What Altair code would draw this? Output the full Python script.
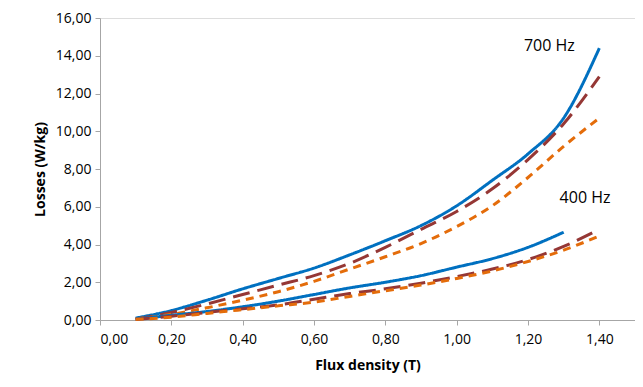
import altair as alt
import pandas as pd

flux = [0.1, 0.2, 0.3, 0.4, 0.5, 0.6, 0.7, 0.8, 0.9, 1.0, 1.1, 1.2, 1.3, 1.4]

meas_700 = [0.1, 0.5, 1.05, 1.65, 2.2, 2.75, 3.45, 4.2, 5.0, 6.05, 7.4, 8.8, 10.7, 14.4]
model1_700 = [0.05, 0.4, 0.85, 1.35, 1.85, 2.35, 3.0, 3.85, 4.8, 5.75, 6.95, 8.5, 10.4, 12.9]
model2_700 = [0.05, 0.3, 0.65, 1.05, 1.5, 2.05, 2.7, 3.35, 4.05, 4.95, 6.05, 7.55, 9.2, 10.7]

flux_400_meas = [0.1, 0.2, 0.3, 0.4, 0.5, 0.6, 0.7, 0.8, 0.9, 1.0, 1.1, 1.2, 1.3]
meas_400 = [0.05, 0.25, 0.45, 0.7, 1.0, 1.35, 1.7, 2.0, 2.35, 2.8, 3.25, 3.85, 4.65]
model1_400 = [0.03, 0.2, 0.4, 0.6, 0.8, 1.1, 1.4, 1.65, 1.95, 2.3, 2.7, 3.2, 3.9, 4.8]
model2_400 = [0.03, 0.15, 0.35, 0.55, 0.75, 0.95, 1.25, 1.55, 1.85, 2.2, 2.6, 3.1, 3.7, 4.45]

x_ticks = [0, 0.2, 0.4, 0.6, 0.8, 1.0, 1.2, 1.4]
y_ticks = [0, 2, 4, 6, 8, 10, 12, 14, 16]

label_text = ["700 Hz", "400 Hz"]
label_x = [1.26, 1.36]
label_y = [14.5, 6.45]

series_names = ["Measured", "Model A", "Model B"]
series_colors = ["#0070C0", "#953735", "#E46C0A"]
series_dashes = [[1, 0], [17, 8], [8, 6]]

rows = []
for name, xs, ys in [
    ("Measured|700", flux, meas_700),
    ("Model A|700", flux, model1_700),
    ("Model B|700", flux, model2_700),
    ("Measured|400", flux_400_meas, meas_400),
    ("Model A|400", flux, model1_400),
    ("Model B|400", flux, model2_400),
]:
    s, f = name.split("|")
    for x, y in zip(xs, ys):
        rows.append({"series": s, "freq": f, "key": name, "B": x, "P": y})
df = pd.DataFrame(rows)

lab = pd.DataFrame({"t": label_text, "x": label_x, "y": label_y})

fmt = "replace(format(datum.value, '.2f'), '.', ',')"

xscale = alt.Scale(domain=[0, 1.5], nice=False, zero=False)
yscale = alt.Scale(domain=[0, 16], nice=False)

x_axis = alt.Axis(values=x_ticks, labelExpr=fmt,
                  grid=False, domainColor="#A6A6A6", tickColor="#A6A6A6",
                  tickSize=5, labelFontSize=14, labelPadding=7, labelOverlap=False,
                  titleFontSize=14, titleFontWeight="bold", titlePadding=12,
                  labelColor="#000000", titleColor="#000000")
y_axis = alt.Axis(values=y_ticks, labelExpr=fmt,
                  grid=False, domainColor="#A6A6A6", tickColor="#A6A6A6",
                  tickSize=5, labelFontSize=14, labelPadding=4, labelOverlap=False,
                  titleFontSize=14, titleFontWeight="bold", titlePadding=8,
                  labelColor="#000000", titleColor="#000000")

lines = alt.Chart(df).mark_line(strokeWidth=3, interpolate="monotone").encode(
    x=alt.X("B:Q", scale=xscale, title="Flux density (T)", axis=x_axis),
    y=alt.Y("P:Q", scale=yscale, title="Losses (W/kg)", axis=y_axis),
    color=alt.Color("series:N", scale=alt.Scale(domain=series_names, range=series_colors), legend=None),
    strokeDash=alt.StrokeDash("series:N", scale=alt.Scale(domain=series_names, range=series_dashes), legend=None),
    detail="key:N",
)

texts = alt.Chart(lab).mark_text(fontSize=16, color="#000000", font="Open Sans").encode(
    x=alt.X("x:Q", scale=xscale, title="Flux density (T)", axis=x_axis),
    y=alt.Y("y:Q", scale=yscale, title="Losses (W/kg)", axis=y_axis),
    text="t:N",
)

chart = alt.layer(lines, texts).properties(
    width=535, height=302,
    autosize=alt.AutoSizeParams(type="none"),
    padding={"left": 92, "top": 10, "right": 0, "bottom": 60},
).configure_view(stroke=None).configure(font="Open Sans").configure_axis(labelOverlap=False)

chart.save("out.html", embed_options={"renderer": "svg", "actions": False})
